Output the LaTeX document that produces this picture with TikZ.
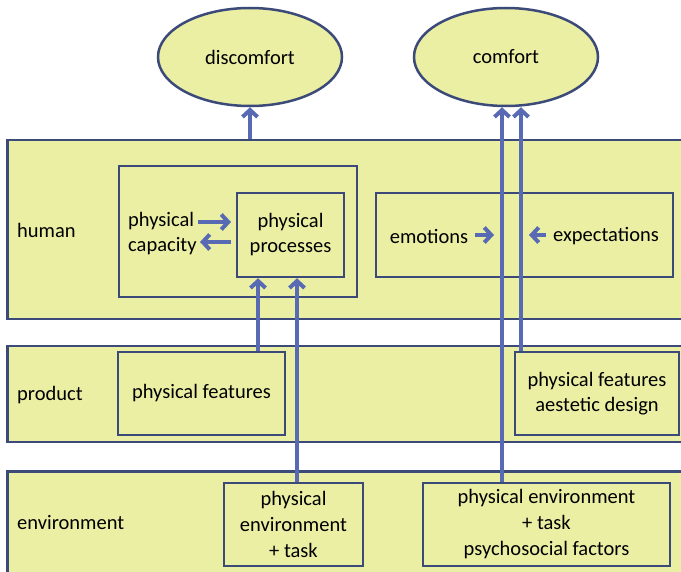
\documentclass[tikz,border=0pt]{standalone}
\usepackage{fontspec}
\setmainfont{Carlito}
\usetikzlibrary{arrows.meta,shapes.geometric}
\definecolor{fillc}{RGB}{235,239,163}
\definecolor{linec}{RGB}{60,74,122}
\definecolor{arrc}{RGB}{88,106,180}
\begin{document}
\begin{tikzpicture}[x=1pt,y=-1pt,
  every node/.style={font=\fontsize{20.5}{26}\selectfont, text=black},
  band/.style={draw=linec, fill=fillc, line width=2.5pt, rectangle, anchor=north west, inner sep=0pt},
  bx/.style={draw=linec, fill=fillc, line width=2.5pt, rectangle, inner sep=0pt, align=center},
  oval/.style={draw=linec, fill=fillc, line width=2.5pt, ellipse, inner sep=0pt, minimum width=184pt, minimum height=98pt},
  lbl/.style={anchor=west, inner sep=0pt},
  arr/.style={draw=arrc, line width=4pt, -{Straight Barb[length=7pt,width=15pt]}}]
\useasboundingbox (0,0) rectangle (681,572);
\clip (0,0) rectangle (681,572);
% bands
\node[band, minimum width=690pt, minimum height=179pt] (hum) at (6,139) {};
\node[band, minimum width=690pt, minimum height=96pt] (prod) at (6,345) {};
\node[band, minimum width=690pt, minimum height=110pt] (env) at (6,470) {};
\node[lbl] (lh) at (17,230) {human};
\node[lbl] (lp) at (17,395) {product};
\node[lbl] (le) at (17,523) {environment};
% ellipses
\node[oval] (dis) at (250,57) {discomfort};
\node[oval] (com) at (506,57) {comfort};
% human boxes
\node[bx, minimum width=238pt, minimum height=131pt] (cap) at (238,231.5) {};
\node[bx, minimum width=107pt, minimum height=84pt] (proc) at (290.5,235) {physical\\[-1pt]processes};
\node[anchor=west, inner sep=0pt, align=left] (capt) at (128,234) {physical\\[-1pt]capacity};
\node[bx, minimum width=297pt, minimum height=84pt] (emo) at (524.5,235) {};
\node[inner sep=0pt] (emt) at (429,236) {emotions};
\node[inner sep=0pt] (ext) at (606,236) {expectations};
% product boxes
\node[bx, minimum width=167pt, minimum height=83pt] (pf) at (201.5,393.5) {physical features};
\node[bx, minimum width=164pt, minimum height=83pt] (pfa) at (597,393.5) {physical features\\[-1pt]aestetic design};
% environment boxes
\node[bx, minimum width=139pt, minimum height=83pt] (em) at (293.5,524.5) {physical\\environment\\+ task};
\node[bx, minimum width=247pt, minimum height=83pt] (er) at (546.5,524.5) {physical environment\\+ task\\psychosocial factors};
% helper coordinates
\coordinate (x1) at (258,0);
\coordinate (x2) at (297,0);
\coordinate (x3) at (502,0);
\coordinate (x4) at (521,0);
\coordinate (ca1) at (198,222);
\coordinate (ca2) at (231,222);
\coordinate (cb1) at (231,242);
\coordinate (cb2) at (200,242);
\coordinate (ea1) at (475,235);
\coordinate (ea2) at (494,235);
\coordinate (eb1) at (546,235);
\coordinate (eb2) at (529,235);
% arrows
\draw[arr] (hum.north -| dis.south) -- (dis.south);
\draw[arr] (pf.north -| x1) -- (proc.south -| x1);
\draw[arr] (em.north -| x2) -- (proc.south -| x2);
\draw[arr] (er.north -| x3) -- (com.south -| x3);
\draw[arr] (pfa.north -| x4) -- (com.south -| x4);
\draw[arr] (ca1) -- (ca2);
\draw[arr] (cb1) -- (cb2);
\draw[arr] (ea1) -- (ea2);
\draw[arr] (eb1) -- (eb2);
\end{tikzpicture}
\end{document}
